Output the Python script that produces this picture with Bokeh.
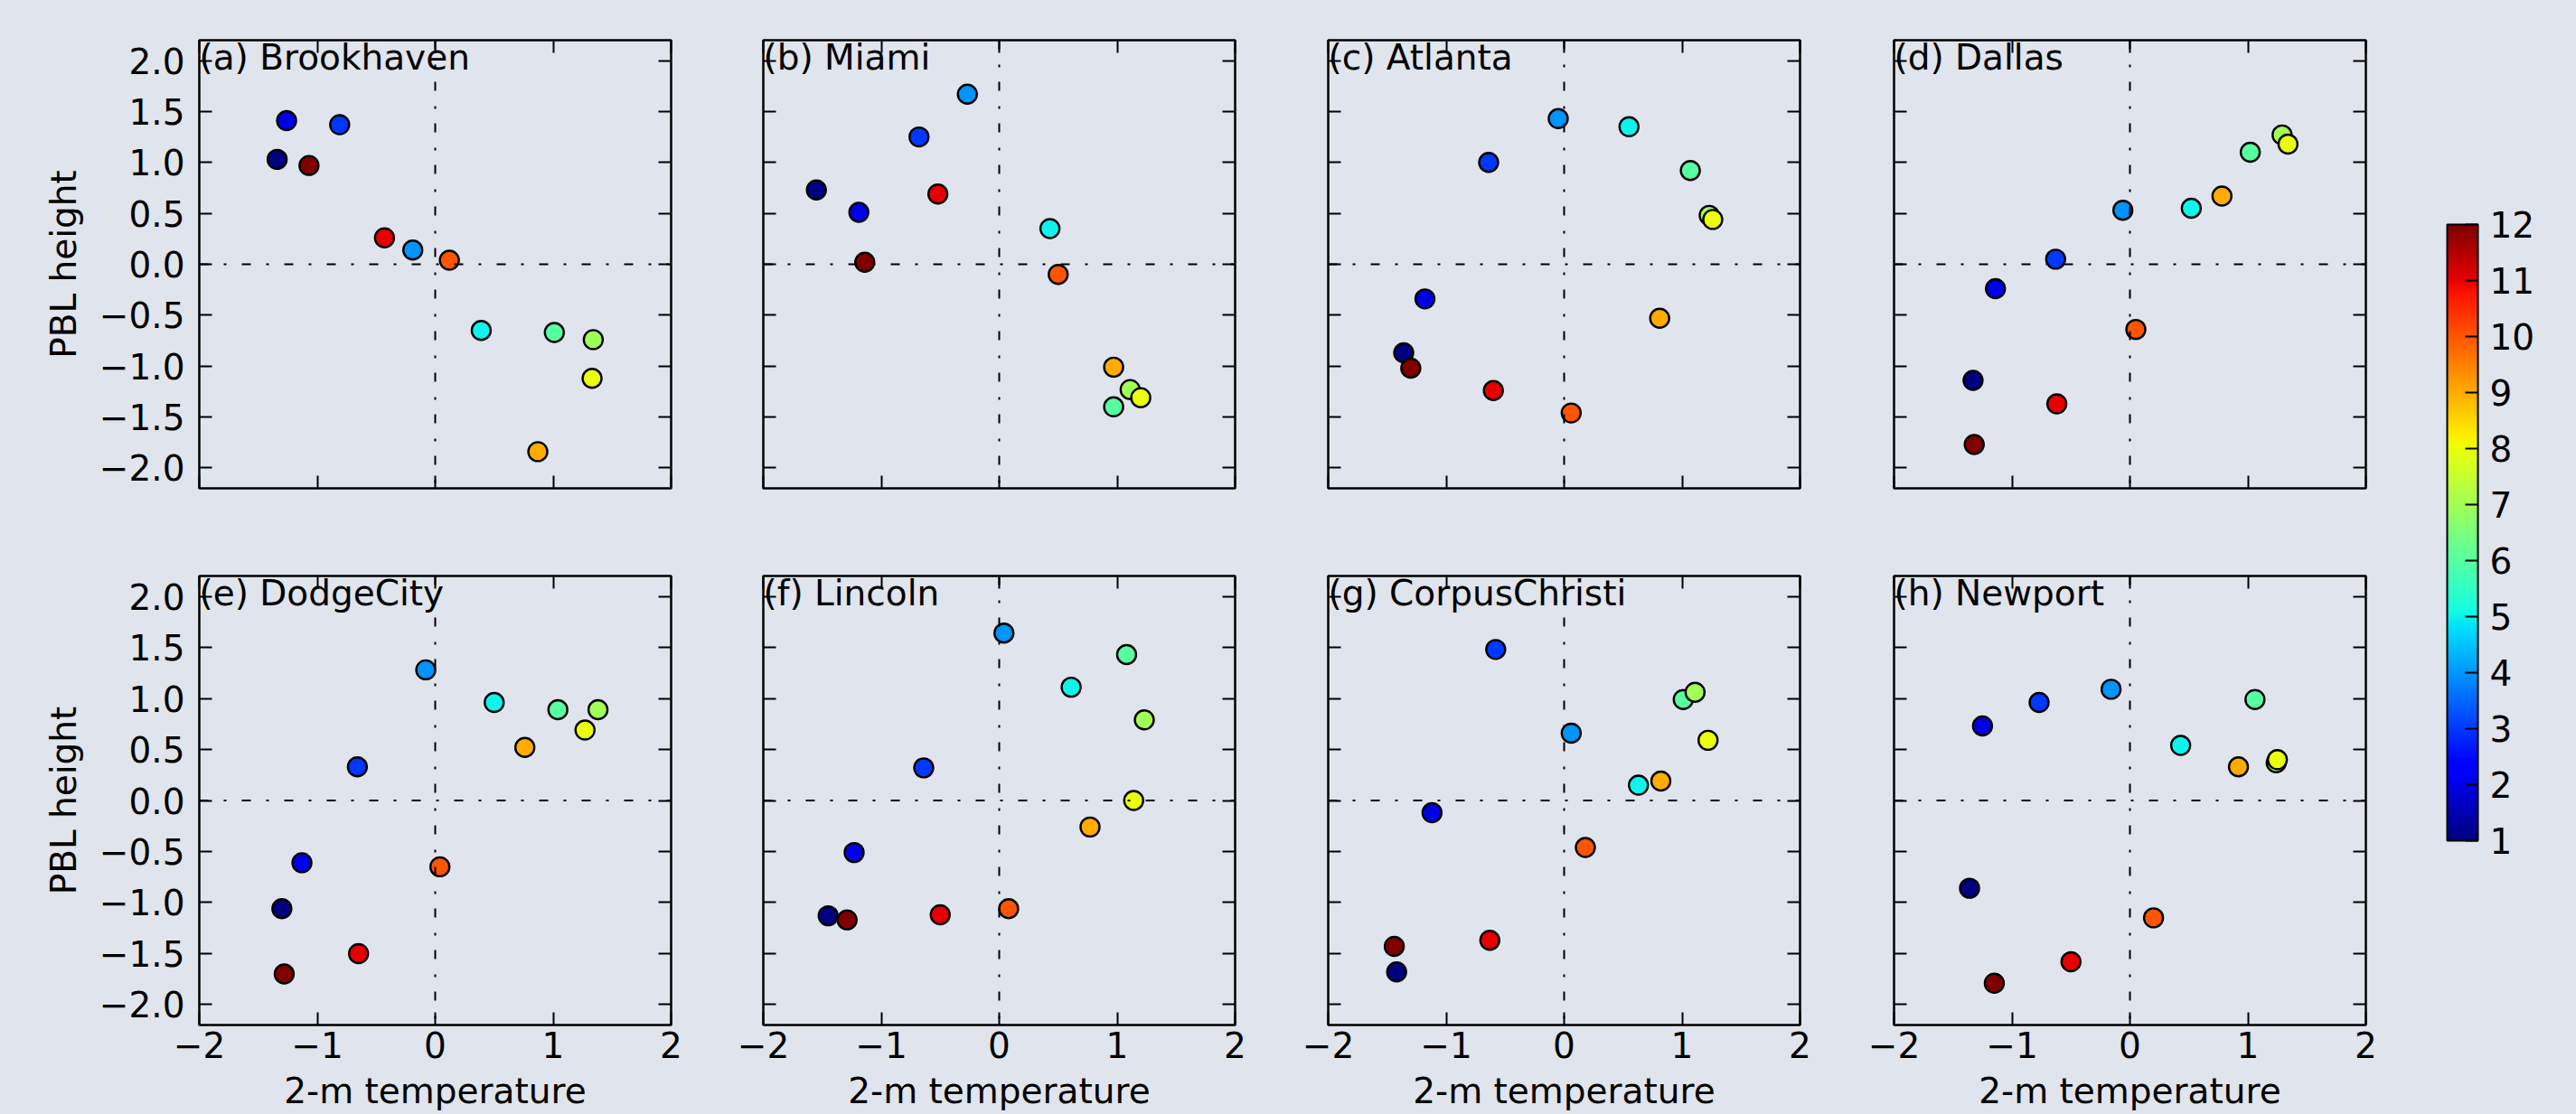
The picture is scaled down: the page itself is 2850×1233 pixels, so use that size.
import numpy as np
from bokeh.plotting import figure
from bokeh.layouts import row, column
from bokeh.models import (ColumnDataSource, LinearColorMapper, ColorBar, FixedTicker,
                          LinearAxis, Span, Label, Range1d)
from bokeh.embed import file_html
from bokeh.resources import INLINE

# ---------------- data ----------------
months = [1, 2, 3, 4, 5, 6, 7, 8, 9, 10, 11, 12]
stations = ["Brookhaven", "Miami", "Atlanta", "Dallas",
            "DodgeCity", "Lincoln", "CorpusChristi", "Newport"]
letters = ["a", "b", "c", "d", "e", "f", "g", "h"]

t_brookhaven = [-1.34, -1.26, -0.81, -0.19, 0.39, 1.01, 1.34, 1.33, 0.87, 0.12, -0.43, -1.07]
pbl_brookhaven = [1.03, 1.41, 1.37, 0.14, -0.65, -0.67, -0.74, -1.12, -1.84, 0.04, 0.26, 0.97]

t_miami = [-1.55, -1.19, -0.68, -0.27, 0.43, 0.97, 1.11, 1.20, 0.97, 0.50, -0.52, -1.14]
pbl_miami = [0.73, 0.51, 1.25, 1.67, 0.35, -1.40, -1.23, -1.31, -1.01, -0.10, 0.69, 0.02]

t_atlanta = [-1.36, -1.18, -0.64, -0.05, 0.55, 1.07, 1.23, 1.26, 0.81, 0.06, -0.60, -1.30]
pbl_atlanta = [-0.87, -0.34, 1.00, 1.43, 1.35, 0.92, 0.48, 0.44, -0.53, -1.46, -1.24, -1.02]

t_dallas = [-1.33, -1.14, -0.63, -0.06, 0.52, 1.02, 1.29, 1.34, 0.78, 0.05, -0.62, -1.32]
pbl_dallas = [-1.14, -0.24, 0.05, 0.53, 0.55, 1.10, 1.27, 1.18, 0.67, -0.64, -1.37, -1.77]

t_dodgecity = [-1.30, -1.13, -0.66, -0.08, 0.50, 1.04, 1.38, 1.27, 0.76, 0.04, -0.65, -1.28]
pbl_dodgecity = [-1.06, -0.61, 0.33, 1.28, 0.96, 0.89, 0.89, 0.69, 0.52, -0.65, -1.50, -1.70]

t_lincoln = [-1.45, -1.23, -0.64, 0.04, 0.61, 1.08, 1.23, 1.14, 0.77, 0.08, -0.50, -1.29]
pbl_lincoln = [-1.13, -0.51, 0.32, 1.64, 1.11, 1.43, 0.79, 0.00, -0.26, -1.06, -1.12, -1.17]

t_corpuschristi = [-1.42, -1.12, -0.58, 0.06, 0.63, 1.01, 1.11, 1.22, 0.82, 0.18, -0.63, -1.44]
pbl_corpuschristi = [-1.68, -0.12, 1.48, 0.66, 0.15, 0.99, 1.06, 0.59, 0.19, -0.46, -1.37, -1.43]

t_newport = [-1.36, -1.25, -0.77, -0.16, 0.43, 1.06, 1.24, 1.25, 0.92, 0.20, -0.50, -1.15]
pbl_newport = [-0.86, 0.73, 0.96, 1.09, 0.54, 0.99, 0.37, 0.40, 0.33, -1.15, -1.58, -1.79]

temps = [t_brookhaven, t_miami, t_atlanta, t_dallas,
         t_dodgecity, t_lincoln, t_corpuschristi, t_newport]
pbls = [pbl_brookhaven, pbl_miami, pbl_atlanta, pbl_dallas,
        pbl_dodgecity, pbl_lincoln, pbl_corpuschristi, pbl_newport]

x_ticks = [-2, -1, 0, 1, 2]
x_tick_labels = ["\u22122", "\u22121", "0", "1", "2"]
y_ticks = [-2.0, -1.5, -1.0, -0.5, 0.0, 0.5, 1.0, 1.5, 2.0]
y_tick_labels = ["\u22122.0", "\u22121.5", "\u22121.0", "\u22120.5", "0.0", "0.5", "1.0", "1.5", "2.0"]
cbar_ticks = months

# ---------------- style ----------------
BG = "#e0e4ec"
FONT = "'DejaVu Sans'"
FS = "39px"


def jet_palette(n=256):
    x = np.linspace(0, 1, n)
    r = np.interp(x, [0, 0.35, 0.66, 0.89, 1], [0, 0, 1, 1, 0.5])
    g = np.interp(x, [0, 0.125, 0.375, 0.64, 0.91, 1], [0, 0, 1, 1, 0, 0])
    b = np.interp(x, [0, 0.11, 0.34, 0.65, 1], [0.5, 1, 1, 0, 0])
    return ["#%02x%02x%02x" % (int(round(rr * 255)), int(round(gg * 255)), int(round(bb * 255)))
            for rr, gg, bb in zip(r, g, b)]


mapper = LinearColorMapper(palette=jet_palette(), low=1, high=12)


def style_axis(ax, ticks, labels, show):
    ax.ticker = FixedTicker(ticks=ticks)
    ax.axis_line_color = None
    ax.major_tick_in = 14
    ax.major_tick_out = 0
    ax.major_tick_line_color = "black"
    ax.major_tick_line_width = 2
    ax.minor_tick_line_color = None
    ax.major_label_text_font = FONT
    ax.major_label_text_color = "black"
    if show:
        ax.major_label_overrides = {t: l for t, l in zip(ticks, labels)}
        ax.major_label_text_font_size = FS
    else:
        ax.major_label_overrides = {t: "" for t in ticks}
        ax.major_label_text_font_size = "0px"
        ax.major_label_standoff = 0
    ax.axis_label_text_font = FONT
    ax.axis_label_text_font_size = FS
    ax.axis_label_text_font_style = "normal"
    ax.axis_label_text_color = "black"


col_left_border = [220, 50, 51, 52]
RIGHT_BORDER = 52

panels = []
for i in range(8):
    r, c = divmod(i, 4)
    first_col = (c == 0)
    bottom_row = (r == 1)
    p = figure(frame_width=522, frame_height=496 if r == 0 else 497,
               x_range=Range1d(-2, 2), y_range=Range1d(-2.2, 2.2),
               min_border_left=col_left_border[c], min_border_right=RIGHT_BORDER,
               min_border_top=44 if r == 0 else 49,
               min_border_bottom=48 if r == 0 else 98,
               toolbar_location=None, output_backend="svg",
               x_axis_location=None, y_axis_location=None)
    p.background_fill_color = BG
    p.border_fill_color = BG
    p.outline_line_color = "black"
    p.outline_line_width = 2.5
    p.outline_line_alpha = 1.0
    p.grid.grid_line_color = None

    left = LinearAxis()
    style_axis(left, y_ticks, y_tick_labels, first_col)
    if first_col:
        left.major_label_standoff = 16
        left.axis_label = "PBL height"
        left.axis_label_standoff = 14
    p.add_layout(left, "left")

    right = LinearAxis()
    style_axis(right, y_ticks, y_tick_labels, False)
    p.add_layout(right, "right")

    below = LinearAxis()
    style_axis(below, x_ticks, x_tick_labels, bottom_row)
    if bottom_row:
        below.major_label_standoff = 7
        below.axis_label = "2-m temperature"
        below.axis_label_standoff = 11
    p.add_layout(below, "below")

    above = LinearAxis()
    style_axis(above, x_ticks, x_tick_labels, False)
    p.add_layout(above, "above")

    src = ColumnDataSource(dict(t=temps[i], pbl=pbls[i], month=months))
    p.scatter(x="t", y="pbl", source=src, size=21,
              fill_color={"field": "month", "transform": mapper},
              line_color="black", line_width=2.4)

    p.add_layout(Span(location=0, dimension="height", line_color="black",
                      line_width=2, line_dash="10 17 3 16"))
    p.add_layout(Span(location=0, dimension="width", line_color="black",
                      line_width=2, line_dash="10 17 3 17"))
    p.add_layout(Label(x=-2, y=2.03, text="(%s) %s" % (letters[i], stations[i]),
                       text_font=FONT, text_font_size=FS,
                       text_align="left", text_baseline="middle",
                       text_color="black"))
    panels.append(p)

CB_W = 175
TOTAL_H = 1232
cb_fig = figure(width=CB_W, height=TOTAL_H, toolbar_location=None, output_backend="svg",
                x_range=Range1d(0, 1), y_range=Range1d(0, 1),
                x_axis_location=None, y_axis_location=None, min_border=0)
cb_fig.outline_line_color = None
cb_fig.background_fill_color = BG
cb_fig.border_fill_color = BG
cb_fig.grid.grid_line_color = None

cb = ColorBar(color_mapper=mapper, ticker=FixedTicker(ticks=cbar_ticks),
              location=(38, TOTAL_H - 930), width=34, height=682, padding=0, margin=0,
              orientation="vertical",
              bar_line_color="black", bar_line_width=2,
              major_tick_line_color="black", major_tick_line_width=2,
              major_tick_in=14, major_tick_out=0,
              minor_tick_line_color=None,
              label_standoff=13,
              major_label_text_font=FONT, major_label_text_font_size=FS,
              major_label_text_color="black",
              background_fill_color=None, border_line_color=None)
cb_fig.add_layout(cb, "center")

layout = row(column(row(*panels[:4]), row(*panels[4:])), cb_fig)

html = file_html(layout, INLINE)
css = "<style>html, body { background-color: %s !important; overflow: hidden; }</style>" % BG
html = html.replace("</head>", css + "</head>", 1)
open("out.html", "w").write(html)
